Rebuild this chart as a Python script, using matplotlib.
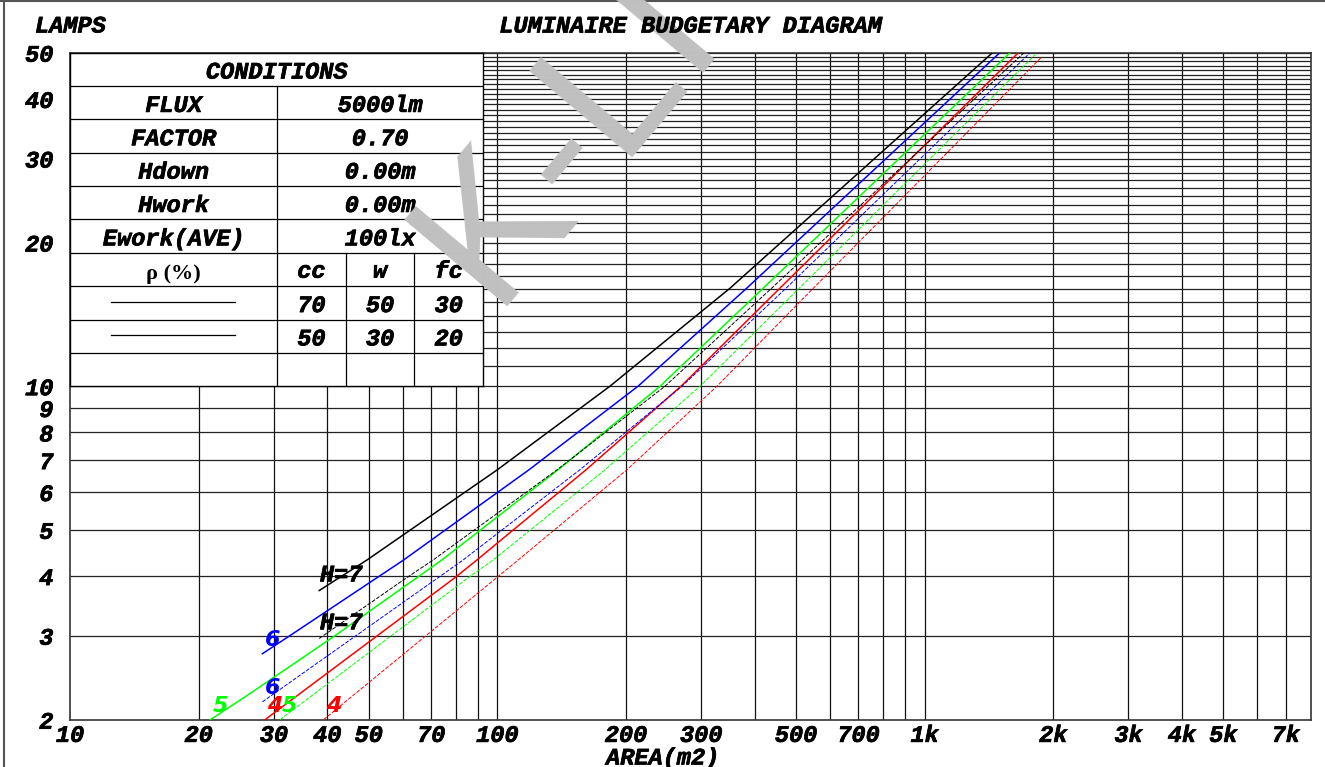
import matplotlib
matplotlib.use("Agg")
import matplotlib.pyplot as plt
from matplotlib.lines import Line2D
from matplotlib import patheffects

W, H, DPI = 1325, 767, 100

# ---------------- data ----------------
x_ticks = [10, 20, 30, 40, 50, 70, 100, 200, 300, 500, 700, 1000, 2000, 3000, 4000, 5000, 7000]
x_ticklabels = ["10", "20", "30", "40", "50", "70", "100", "200", "300", "500", "700",
                "1k", "2k", "3k", "4k", "5k", "7k"]
y_ticks = [2, 3, 4, 5, 6, 7, 8, 9, 10, 20, 30, 40, 50]
y_ticklabels = ["2", "3", "4", "5", "6", "7", "8", "9", "10", "20", "30", "40", "50"]

v_grid = [20, 30, 40, 50, 60, 70, 80, 90,
          100, 200, 300, 400, 500, 600, 700, 800, 900,
          1000, 2000, 3000, 4000, 5000, 6000, 7000]
h_grid = [3, 4, 5, 6, 7, 8, 9] + list(range(10, 51))

height_labels = ["H=7", "6", "5", "4"]
colors = ["#000000", "#0000ff", "#00ff00", "#ff0000"]

# reflectance condition 1 (cc 70 / w 50 / fc 30) : solid
area_c1_h7 = [38.3, 49.5, 100, 183.5, 350.5, 1442]
lamps_c1_h7 = [3.73, 4.32, 6.68, 10.0, 16.05, 50]
area_c1_h6 = [28.2, 32.7, 60.3, 118.6, 213.5, 383.5, 1500]
lamps_c1_h6 = [2.75, 3.0, 4.32, 6.68, 10.0, 16.05, 50]
area_c1_h5 = [21.3, 26.4, 41.7, 74.1, 138.7, 240.4, 419, 1585]
lamps_c1_h5 = [2.0, 2.27, 3.0, 4.32, 6.68, 10.0, 16.05, 50]
area_c1_h4 = [28.6, 79.6, 89.5, 161.3, 269.2, 458.6, 1657]
lamps_c1_h4 = [2.0, 3.97, 4.32, 6.68, 10.0, 16.05, 50]

# reflectance condition 2 (cc 50 / w 30 / fc 20) : thin dashed
area_c2_h7 = [38.3, 61.4, 70.7, 138, 246.9, 438.6, 1709]
lamps_c2_h7 = [2.96, 3.97, 4.32, 6.68, 10.0, 16.05, 50]
area_c2_h6 = [28.2, 83.1, 156, 270.6, 474, 1766]
lamps_c2_h6 = [2.18, 4.32, 6.68, 10.0, 16.05, 50]
area_c2_h5 = [31.0, 85.5, 97.7, 178.6, 298.2, 509, 1813]
lamps_c2_h5 = [2.0, 3.97, 4.32, 6.68, 10.0, 16.05, 49.5]
area_c2_h4 = [39.2, 99.7, 111.8, 201, 326.7, 549, 1871]
lamps_c2_h4 = [2.0, 3.97, 4.32, 6.68, 10.0, 16.05, 48.8]

cond_rows = [("FLUX", "5000lm"), ("FACTOR", "0.70"), ("Hdown", "0.00m"),
             ("Hwork", "0.00m"), ("Ework(AVE)", "100lx")]
refl_header = ["cc", "w", "fc"]
refl_c1 = ["70", "50", "30"]
refl_c2 = ["50", "30", "20"]

# ---------------- style ----------------
FS = 17


def heavy(color="black"):
    return [patheffects.withStroke(linewidth=0.5, foreground=color)]


MONO = dict(family="Liberation Mono", weight="bold", style="italic")

fig = plt.figure(figsize=(W / DPI, H / DPI), dpi=DPI)
fig.patch.set_facecolor("white")

L, R, T, B = 70, 1310.5, 52.7, 719.7
ax = fig.add_axes([L / W, 1 - B / H, (R - L) / W, (B - T) / H])
ax.set_xscale("log")
ax.set_yscale("log")
ax.set_xlim(10, 8000)
ax.set_ylim(2, 50)

ax.vlines(v_grid, 2, 50, color="#111111", lw=0.9, zorder=1)
ax.hlines(h_grid, 10, 8000, color="#222222", lw=0.9, zorder=1)
for s in ax.spines.values():
    s.set_linewidth(1.2)
    s.set_color("#333333")

ax.set_xticks(x_ticks)
ax.set_xticklabels(x_ticklabels)
ax.set_yticks(y_ticks)
ax.set_yticklabels(y_ticklabels)
ax.xaxis.set_minor_locator(plt.NullLocator())
ax.yaxis.set_minor_locator(plt.NullLocator())
ax.tick_params(axis="both", which="both", length=0)
ax.tick_params(axis="x", pad=3)
ax.tick_params(axis="y", pad=12)
for lab in ax.get_xticklabels() + ax.get_yticklabels():
    lab.set_fontfamily("Liberation Mono")
    lab.set_fontweight("bold")
    lab.set_fontstyle("italic")
    lab.set_fontsize(FS)
    lab.set_path_effects(heavy())

solid = [(area_c1_h7, lamps_c1_h7), (area_c1_h6, lamps_c1_h6),
         (area_c1_h5, lamps_c1_h5), (area_c1_h4, lamps_c1_h4)]
dashed = [(area_c2_h7, lamps_c2_h7), (area_c2_h6, lamps_c2_h6),
          (area_c2_h5, lamps_c2_h5), (area_c2_h4, lamps_c2_h4)]

for (xs, ys), c in zip(solid, colors):
    ax.plot(xs, ys, color=c, lw=1.1, zorder=3)
for (xs, ys), c in zip(dashed, colors):
    ax.plot(xs, ys, color=c, lw=0.7, ls=(0, (4, 1.5)), zorder=3)

for series in (solid, dashed):
    for (xs, ys), c, lab in zip(series, colors, height_labels):
        if lab.startswith("H"):
            ax.annotate(lab, xy=(xs[0], ys[0]), xytext=(0.5, 3), textcoords="offset points",
                        ha="left", va="bottom", color=c, fontsize=FS, annotation_clip=False,
                        zorder=5, path_effects=heavy(c), **MONO)
        else:
            ax.annotate(lab, xy=(xs[0], ys[0]), xytext=(1.5, 2.5), textcoords="offset points",
                        ha="left", va="bottom", color=c, fontsize=16, annotation_clip=False,
                        zorder=5, family="DejaVu Sans", weight="bold", style="italic")

# ---------------- conditions table ----------------
TL, TR, TT, TB = 70, 483, 52.7, 386.3
tab = fig.add_axes([TL / W, 1 - TB / H, (TR - TL) / W, (TB - TT) / H])
tab.set_facecolor("white")
tab.set_xlim(0, TR - TL)
tab.set_ylim(10, 0)
tab.set_xticks([])
tab.set_yticks([])
for s in tab.spines.values():
    s.set_linewidth(1.0)
    s.set_color("black")

c0, c1, c2, c3, c4 = 0, 207, 275.7, 344.3, 413
lk = dict(color="black", lw=0.9)
for r in range(1, 10):
    tab.plot([c0, c4], [r, r], **lk)
tab.plot([c1, c1], [1, 10], **lk)
tab.plot([c2, c2], [6, 10], **lk)
tab.plot([c3, c3], [6, 10], **lk)

tkw = dict(ha="center", va="center", fontsize=FS, path_effects=heavy(), **MONO)
tab.text((c0 + c4) / 2, 0.58, "CONDITIONS", **tkw)
for i, (k, v) in enumerate(cond_rows):
    yc = 1.58 + i
    tab.text((c0 + c1) / 2, yc, k, **tkw)
    tab.text((c1 + c4) / 2, yc, v, **tkw)
tab.text((c0 + c1) / 2, 6.62, "\u03c1 (%)", ha="center", va="center", fontsize=16,
         family="Liberation Serif", weight="bold")
cols_mid = [(c1 + c2) / 2, (c2 + c3) / 2, (c3 + c4) / 2]
for j in range(3):
    tab.text(cols_mid[j], 6.55, refl_header[j], **tkw)
    tab.text(cols_mid[j], 7.58, refl_c1[j], **tkw)
    tab.text(cols_mid[j], 8.58, refl_c2[j], **tkw)
tab.plot([41, 165], [7.47, 7.47], color="black", lw=0.9)
tab.plot([41, 165], [8.47, 8.47], color="black", lw=0.9)

# ---------------- titles ----------------
fkw = dict(fontsize=FS, path_effects=heavy(), zorder=4, **MONO)
fig.text(35 / W, 1 - 26 / H, "LAMPS", ha="left", va="center", **fkw)
fig.text(690 / W, 1 - 26 / H, "LUMINAIRE BUDGETARY DIAGRAM", ha="center", va="center", **fkw)
fig.text(606 / W, 1 - 758 / H, "AREA(m2)", ha="left", va="center", **fkw)

# watermark
fig.text(492 / W, 1 - 306 / H, "K-LI", rotation=50, fontsize=140, color="#c0c0c0",
         family="Liberation Sans", ha="left", va="baseline", zorder=2,
         rotation_mode="anchor")

# outer frame (left and top)
fig.add_artist(Line2D([3.5 / W, 3.5 / W], [0, 1], color="#555555", lw=1.5))
fig.add_artist(Line2D([0, 1], [1 - 1 / H, 1 - 1 / H], color="#555555", lw=1.5))

fig.savefig("out.png", dpi=DPI, facecolor="white")
